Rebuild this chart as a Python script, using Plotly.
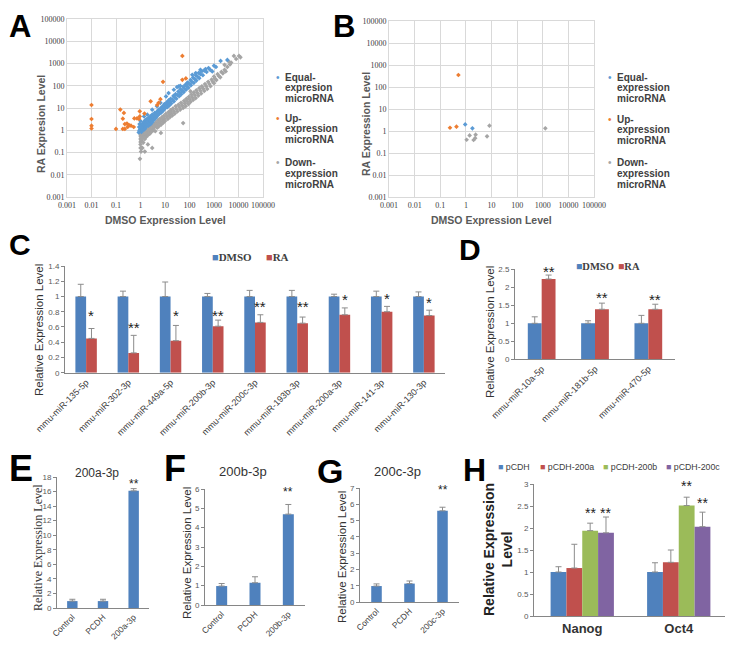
import plotly.graph_objects as go

W, H = 733, 649
OFF = 8  # the html page body adds an 8px margin around the figure
def fx(p): return (p - OFF) / W
def fy(p): return 1 - (p - OFF) / H

SANS = "Liberation Sans, Arial, sans-serif"
SERIF = "Liberation Serif, Times New Roman, serif"
BLUE_S, ORANGE_S, GRAY_S = "#5B9BD5", "#ED7D31", "#A5A5A5"
BLUE, RED, GREEN, PURPLE = "#4F81BD", "#C0504D", "#9BBB59", "#8064A2"
ERR = "#8C8C8C"
AXC = "#868686"

# ---------------- Panel A data (DMSO vs RA expression) ----------------
a_equal_x = [0.85,0.88,0.9,0.92,0.95,1.0,1.0,1.05,1.1,1.1,1.15,1.2,1.2,1.25,1.3,1.35,1.4,1.4,1.45,1.5,
             1.55,1.6,1.7,1.75,1.8,1.9,1.9,2.0,2.1,2.2,2.3,2.4,2.5,2.6,2.7,2.8,3.0,3.0,3.1,3.2,
             3.4,3.6,3.8,4.0,4.2,4.5,4.7,4.8,5.0,5.3,5.6,6.0,6.4,6.5,6.8,7.2,7.6,8.0,8.5,9.0,
             9.5,10,11,11,12,12.5,13,14,14,15,16,17,18,20,22,23,23,25,27,29,
             31,32,35,36,38,40,42,43,46,50,55,58,62,68,72,78,80,85,90,100,
             110,115,125,130,140,150,165,180,180,190,210,240,250,280,280,320,350,400,450,500,
             600,700,850,1000,1200,1860,3500]
a_equal_y = [0.8,1.4,0.95,1.9,1.1,1.3,2.6,0.9,1.6,0.85,1.2,2.0,1.0,1.05,1.4,1.8,2.4,4.2,1.1,1.6,
             2.8,1.3,2.1,1.5,3.2,1.8,5.0,2.5,1.6,3.6,2.1,2.9,4.2,1.9,2.6,3.3,5.0,8.4,2.4,3.8,
             2.9,4.5,6.0,3.4,5.2,4.0,12,7.0,4.6,6.2,8.5,5.5,7.5,17,10,6.4,9.0,12,7.8,11,
             15,9.5,13,33,18,11,15,22,47,13,19,26,16,24,35,20,66,30,42,26,
             87,38,55,93,34,48,100,70,42,60,90,52,75,110,66,95,130,140,82,120,
             180,105,150,310,230,135,200,300,370,170,260,380,220,330,520,450,300,480,560,420,
             620,520,440,800,700,1300,1450]
a_up_x = [0.01,0.01,0.01,0.01,0.1,0.15,0.21,0.19,0.23,0.28,0.34,0.41,0.53,0.19,0.23,
          0.56,0.72,0.87,0.93,0.93,1.45,2.6,4.8,6.5,5.5,8.3,51,51,71,0.3]
a_up_y = [13.6,3.2,1.6,1.2,1.15,8.5,6.0,3.3,1.9,2.0,1.7,1.6,1.4,1.15,1.15,
          3.4,3.4,3.2,7.1,4.2,5.6,20,13.6,25,17,150,2200,185,213,1.4]
a_down_x = [0.95,1.0,1.0,1.0,1.0,1.0,0.98,1.05,1.05,1.1,1.1,1.15,1.2,1.2,1.3,1.3,1.4,1.5,1.5,1.5,
            1.6,1.7,1.8,1.9,2.0,2.0,2.1,2.2,2.4,2.5,2.6,2.8,3.0,3.0,3.2,3.4,3.6,3.8,4.0,4.2,
            4.5,4.8,5.0,5.3,5.6,6.0,6.4,6.8,7.0,7.5,8.0,8.5,9.0,9.5,10,11,12,13,14,15,
            16,17,18,20,21,23,25,27,29,32,35,38,42,45,50,55,55,60,65,70,
            75,80,90,95,100,110,110,120,130,140,150,165,180,190,210,230,250,280,300,320,
            360,400,430,480,530,580,650,720,800,900,1000,1000,1100,1250,1400,1600,1800,2000,2300,2700,
            2700,3000,3500,4000,4500,5000,6500,8000,10500,12000]
a_down_y = [0.052,0.16,0.23,0.3,0.4,0.55,0.7,0.11,0.5,0.16,0.35,0.6,0.16,0.45,0.28,0.7,0.55,0.11,0.4,0.85,
            0.65,0.5,1.0,0.75,0.23,0.6,1.2,0.9,0.7,1.4,1.05,0.85,0.16,1.6,1.2,1.0,1.9,1.4,0.9,2.2,
            1.7,1.3,2.7,2.0,1.5,3.2,2.4,0.76,1.8,3.8,2.9,2.2,4.5,3.4,2.6,5.5,4.2,3.2,6.6,5.0,
            3.9,8.0,6.0,4.6,9.5,7.2,5.6,12,9.0,7.0,14,11,8.5,17,13,2.1,10,21,16,12,
            26,20,15,32,25,56,19,40,30,23,50,38,28,62,48,36,78,60,45,95,
            75,58,120,95,72,150,120,95,190,150,260,130,210,180,330,270,240,420,360,870,
            520,440,700,1230,900,1100,2200,1600,2200,1900]

# ---------------- Panel B data ----------------
b_equal_x = [0.94, 1.8]
b_equal_y = [2.0, 1.32]
b_up_x = [0.24, 0.43, 0.51]
b_up_y = [1.41, 1.58, 351]
b_down_x = [1.07, 1.4, 2.0, 2.3, 2.4, 6.7, 8.3, 1260]
b_down_y = [0.4, 0.63, 0.39, 0.47, 0.68, 0.57, 1.75, 1.32]

log_ticks = [0.001, 0.01, 0.1, 1, 10, 100, 1000, 10000, 100000]
log_tick_text = ["0.001", "0.01", "0.1", "1", "10", "100", "1000", "10000", "100000"]

# ---------------- Panel C data ----------------
c_cats = ["mmu-miR-135-5p", "mmu-miR-302-3p", "mmu-miR-449a-5p", "mmu-miR-200b-3p", "mmu-miR-200c-3p",
          "mmu-miR-193b-3p", "mmu-miR-200a-3p", "mmu-miR-141-3p", "mmu-miR-130-3p"]
c_dmso = [1.0, 1.0, 1.0, 1.0, 1.0, 1.0, 1.0, 1.0, 1.0]
c_dmso_err = [0.16, 0.07, 0.19, 0.04, 0.08, 0.08, 0.03, 0.07, 0.06]
c_ra = [0.45, 0.26, 0.42, 0.61, 0.66, 0.65, 0.76, 0.80, 0.75]
c_ra_err = [0.13, 0.23, 0.20, 0.08, 0.10, 0.08, 0.09, 0.07, 0.07]
c_stars = ["*", "**", "*", "**", "**", "**", "*", "*", "*"]
c_star_y = [0.80, 0.65, 0.80, 0.80, 0.92, 0.92, 1.01, 1.03, 0.97]

# ---------------- Panel D data ----------------
d_cats = ["mmu-miR-10a-5p", "mmu-miR-181b-5p", "mmu-miR-470-5p"]
d_dmso = [1.0, 1.0, 1.0]
d_dmso_err = [0.18, 0.07, 0.22]
d_ra = [2.23, 1.39, 1.39]
d_ra_err = [0.11, 0.17, 0.14]
d_stars = ["**", "**", "**"]
d_star_y = [2.56, 1.84, 1.76]

# ---------------- Panels E, F, G data ----------------
e_cats = ["Control", "PCDH", "200a-3p"]
e_vals = [0.95, 0.95, 16.1]
e_err = [0.25, 0.25, 0.3]
e_star_y = 17.6
f_cats = ["Control", "PCDH", "200b-3p"]
f_vals = [0.98, 1.15, 4.70]
f_err = [0.13, 0.31, 0.50]
f_star_y = 6.03
g_cats = ["Control", "PCDH", "200c-3p"]
g_vals = [0.98, 1.13, 5.6]
g_err = [0.13, 0.16, 0.22]
g_star_y = 7.1

# ---------------- Panel H data ----------------
h_cats = ["Nanog", "Oct4"]
h_series = ["pCDH", "pCDH-200a", "pCDH-200b", "pCDH-200c"]
h_vals = [[1.0, 1.0], [1.09, 1.22], [1.94, 2.51], [1.89, 2.03]]
h_errs = [[0.12, 0.21], [0.54, 0.28], [0.17, 0.19], [0.36, 0.33]]
h_stars = [["", ""], ["", ""], ["**", "**"], ["**", "**"]]
h_star_y = [[0, 0], [0, 0], [2.43, 3.04], [2.43, 2.67]]
h_colors = [BLUE, RED, GREEN, PURPLE]

fig = go.Figure()
annotations = []

def ann(text, x, y, size, color="#404040", family=SANS, bold=False, xanchor="center",
        yanchor="middle", angle=0, pad=1):
    if bold:
        text = "<b>" + text + "</b>"
    annotations.append(dict(text=text, x=fx(x), y=fy(y), xref="paper", yref="paper",
                            showarrow=False, font=dict(size=size, color=color, family=family),
                            xanchor=xanchor, yanchor=yanchor, textangle=angle, borderpad=pad))

def star(text, xa, ya, x, y_star, y_anchor, ppu, size):
    # anchored at the error-bar top (inside the axis range), shifted up to the star position
    annotations.append(dict(text=text, x=x, y=y_anchor, xref=xa, yref=ya, showarrow=False,
                            font=dict(size=size, color="#222222", family=SANS),
                            xanchor="center", yanchor="middle",
                            yshift=(y_star - y_anchor) * ppu - 4))

# ---------- scatter panels ----------
def scatter_panel(n, xs, ys, cols):
    xa, ya = ("x" if n == 1 else "x%d" % n), ("y" if n == 1 else "y%d" % n)
    for x, y, c in zip(xs, ys, cols):
        fig.add_trace(go.Scatter(x=x, y=y, mode="markers", xaxis=xa, yaxis=ya,
                                 marker=dict(color=c, size=3.6, symbol="diamond"),
                                 showlegend=False, hoverinfo="skip"))

scatter_panel(1, [a_down_x, a_equal_x, a_up_x], [a_down_y, a_equal_y, a_up_y], [GRAY_S, BLUE_S, ORANGE_S])
scatter_panel(2, [b_down_x, b_equal_x, b_up_x], [b_down_y, b_equal_y, b_up_y], [GRAY_S, BLUE_S, ORANGE_S])

def log_axes(xd, yd):
    common = dict(type="log", range=[-3, 5], tickvals=log_ticks, ticktext=log_tick_text,
                  showgrid=True, gridcolor="#D9D9D9", gridwidth=1, zeroline=False,
                  showline=True, linecolor="#D9D9D9", mirror=True, ticks="", automargin=False,
                  tickangle=0, tickfont=dict(family=SERIF, size=8, color="#404040"))
    return dict(domain=xd, **common), dict(domain=yd, **common)

xa1, ya1 = log_axes([fx(67), fx(263)], [fy(197), fy(19)])
xa2, ya2 = log_axes([fx(389), fx(594)], [fy(197), fy(21)])

# ---------- bar panels ----------
def bars(n, vals, errs, color, offset, width):
    fig.add_trace(go.Bar(x=list(range(len(vals))), y=vals, xaxis="x%d" % n, yaxis="y%d" % n,
                         offset=offset, width=width, marker=dict(color=color, line=dict(width=0)),
                         error_y=dict(type="data", symmetric=False, array=errs,
                                      arrayminus=[0] * len(errs), color=ERR, thickness=1, width=3),
                         showlegend=False, hoverinfo="skip"))

def bar_axes(xd, ypx, cats, yrange, dtick, angle=-45, xfont=None):
    xf = xfont or dict(family=SANS, size=9, color="#404040")
    xa = dict(domain=xd, range=[-0.5, len(cats) - 0.5], tickvals=list(range(len(cats))),
              ticktext=cats, tickangle=angle, showline=True, linecolor=AXC, linewidth=1,
              ticks="", showgrid=False, zeroline=False, tickfont=xf, automargin=False)
    ya = dict(domain=[fy(ypx[0]), fy(ypx[1])], range=yrange, dtick=dtick, showline=True,
              linecolor=AXC, linewidth=1, ticks="outside", ticklen=3, tickcolor=AXC,
              showgrid=False, zeroline=False, automargin=False,
              tickfont=dict(family=SANS, size=8, color="#595959"))
    ppu = (ypx[0] - ypx[1]) / (yrange[1] - yrange[0])
    return xa, ya, ppu

small_x = dict(family=SANS, size=8.5, color="#404040")

# C
cw = 0.254
bars(3, c_dmso, c_dmso_err, BLUE, -cw, cw)
bars(3, c_ra, c_ra_err, RED, 0, cw)
xa3, ya3, ppu3 = bar_axes([fx(65), fx(445)], [372.7, 266], c_cats, [0, 1.4], 0.2)
for i, (s, sy) in enumerate(zip(c_stars, c_star_y)):
    star(s, "x3", "y3", i + cw / 2, sy, c_ra[i] + c_ra_err[i], ppu3, 15)

# D
dw = 0.26
bars(4, d_dmso, d_dmso_err, BLUE, -dw, dw)
bars(4, d_ra, d_ra_err, RED, 0, dw)
xa4, ya4, ppu4 = bar_axes([fx(515), fx(675)], [359.3, 269.3], d_cats, [0, 2.5], 0.5)
for i, (s, sy) in enumerate(zip(d_stars, d_star_y)):
    star(s, "x4", "y4", i + dw / 2, sy, d_ra[i] + d_ra_err[i], ppu4, 15)

# E, F, G
bars(5, e_vals, e_err, BLUE, -0.17, 0.34)
xa5, ya5, ppu5 = bar_axes([fx(57), fx(149)], [608, 477], e_cats, [0, 18], 2, xfont=small_x)
star("**", "x5", "y5", 2, e_star_y, e_vals[2] + e_err[2], ppu5, 12)
bars(6, f_vals, f_err, BLUE, -0.165, 0.33)
xa6, ya6, ppu6 = bar_axes([fx(205), fx(305)], [605, 489], f_cats, [0, 6], 1, xfont=small_x)
star("**", "x6", "y6", 2, f_star_y, f_vals[2] + f_err[2], ppu6, 12)
bars(7, g_vals, g_err, BLUE, -0.16, 0.32)
xa7, ya7, ppu7 = bar_axes([fx(360), fx(459)], [602, 488], g_cats, [0, 7], 1, xfont=small_x)
star("**", "x7", "y7", 2, g_star_y, g_vals[2] + g_err[2], ppu7, 12)

# H
hw = 0.164
xa8, ya8, ppu8 = bar_axes([fx(534), fx(727)], [616, 484], h_cats, [0, 3], 0.5, angle=0,
                          xfont=dict(family=SANS, size=13, color="#333333"))
xa8["ticktext"] = ["<b>%s</b>" % c for c in h_cats]
for k in range(4):
    bars(8, h_vals[k], h_errs[k], h_colors[k], -2 * hw + k * hw, hw)
    for i in range(2):
        if h_stars[k][i]:
            star(h_stars[k][i], "x8", "y8", i - 2 * hw + k * hw + hw / 2, h_star_y[k][i],
                 h_vals[k][i] + h_errs[k][i], ppu8, 14)

# ---------- text: panel letters ----------
ann("A", 8, 8, 31, color="#000000", bold=True, xanchor="left", yanchor="top", pad=0)
ann("B", 344, 8, 31, color="#000000", bold=True, yanchor="top", pad=0)
ann("C", 8, 244, 30, color="#000000", bold=True, xanchor="left", pad=0)
ann("D", 470, 249, 30, color="#000000", bold=True)
ann("E", 8, 469, 36, color="#000000", bold=True, xanchor="left", pad=0)
ann("F", 175, 469, 36, color="#000000", bold=True)
ann("G", 330, 471, 34, color="#000000", bold=True)
ann("H", 474, 470, 32, color="#000000", bold=True)

# axis titles for scatter panels
ann("DMSO Expression Level", 165, 220, 10.5, color="#595959", bold=True)
ann("DMSO Expression Level", 491, 220, 10.5, color="#595959", bold=True)
ann("RA Expresion Level", 41, 124, 10.5, color="#595959", bold=True, angle=-90)
ann("RA Expression Level", 366, 124, 10.5, color="#595959", bold=True, angle=-90)

# scatter legends
legA = [(["Equal-", "expresion", "microRNA"], BLUE_S, 77),
        (["Up-", "expression", "microRNA"], ORANGE_S, 118),
        (["Down-", "expression", "microRNA"], GRAY_S, 163)]
legB = [(["Equal-", "expression", "microRNA"], BLUE_S, 77),
        (["Up-", "expression", "microRNA"], ORANGE_S, 119),
        (["Down-", "expression", "microRNA"], GRAY_S, 163)]
for leg, xdot in [(legA, 278), (legB, 610)]:
    for lines, col, y0 in leg:
        ann("\u2022", xdot, y0, 10, color=col)
        for j, line in enumerate(lines):
            ann(line, xdot + 5, y0 + j * 10.6, 10, color="#404040", bold=True, xanchor="left")

# bar legends
def sq(col, label, x, y, size, family, bold, color="#404040"):
    lab = "<b>%s</b>" % label if bold else label
    annotations.append(dict(text="<span style='color:%s'>\u25A0</span>%s" % (col, lab),
                            x=fx(x), y=fy(y), xref="paper", yref="paper", showarrow=False,
                            font=dict(size=size, color=color, family=family),
                            xanchor="left", yanchor="middle"))

sq(BLUE, "DMSO", 210, 257, 11, SERIF, True)
sq(RED, "RA", 264, 257, 11, SERIF, True)
sq(BLUE, "DMSO", 574, 266, 10.5, SERIF, True)
sq(RED, "RA", 616, 266, 10.5, SERIF, True)
for lab, col, x in zip(h_series, h_colors, [496, 538, 601, 664]):
    sq(col, " " + lab, x, 467, 8.8, SANS, False)

# bar y-axis titles
ann("Relative Expression Level", 39, 330, 11.5, color="#333333", angle=-90)
ann("Relative Expression Level", 490, 332, 11.5, color="#333333", angle=-90)
ann("Relative Expression Level", 38, 548, 12, color="#333333", family=SERIF, angle=-90)
ann("Relative Expression Level", 187, 553, 11.5, color="#333333", angle=-90)
ann("Relative Expression Level", 342, 557, 11.5, color="#333333", angle=-90)
ann("Relative Expression<br>Level", 498, 550, 14, color="#222222", bold=True, angle=-90)

# small panel titles
ann("200a-3p", 97, 473, 12, color="#333333")
ann("200b-3p", 243, 472, 13, color="#333333")
ann("200c-3p", 397, 472, 13, color="#333333")

fig.update_layout(
    width=W, height=H, margin=dict(l=0, r=0, t=0, b=0, autoexpand=False),
    paper_bgcolor="white", plot_bgcolor="white", showlegend=False, barmode="overlay",
    xaxis=dict(xa1, anchor="y"), yaxis=dict(ya1, anchor="x"),
    xaxis2=dict(xa2, anchor="y2"), yaxis2=dict(ya2, anchor="x2"),
    xaxis3=dict(xa3, anchor="y3"), yaxis3=dict(ya3, anchor="x3"),
    xaxis4=dict(xa4, anchor="y4"), yaxis4=dict(ya4, anchor="x4"),
    xaxis5=dict(xa5, anchor="y5"), yaxis5=dict(ya5, anchor="x5"),
    xaxis6=dict(xa6, anchor="y6"), yaxis6=dict(ya6, anchor="x6"),
    xaxis7=dict(xa7, anchor="y7"), yaxis7=dict(ya7, anchor="x7"),
    xaxis8=dict(xa8, anchor="y8"), yaxis8=dict(ya8, anchor="x8"),
    annotations=annotations,
)

fig.write_html("out.html")
